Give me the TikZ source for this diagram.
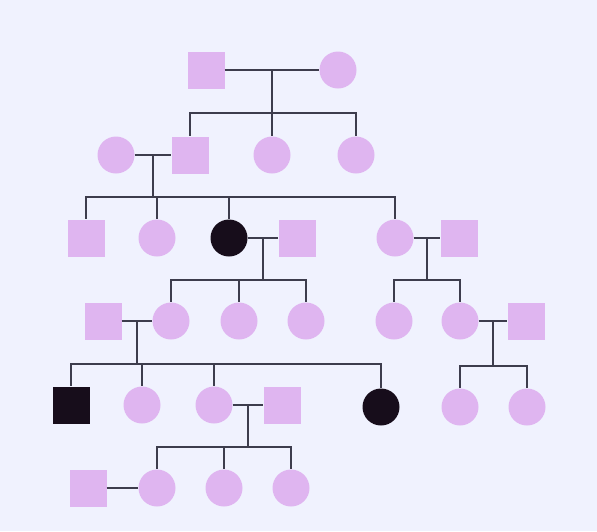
\documentclass[tikz,border=0pt]{standalone}
\usetikzlibrary{calc}
\definecolor{bgcol}{HTML}{F0F2FE}
\definecolor{lav}{HTML}{DFB5F0}
\definecolor{dark}{HTML}{170D1B}
\definecolor{linecol}{HTML}{3D3D4D}
\begin{document}
\begin{tikzpicture}[x=1pt,y=-1pt,
    male/.style={rectangle,fill=lav,minimum size=37pt,inner sep=0pt},
    female/.style={circle,fill=lav,minimum size=37pt,inner sep=0pt},
    affected/.style={fill=dark},
    link/.style={draw=linecol,line width=1.3pt}]
    \fill[bgcol] (0,0) rectangle (597,531);

    \node[male] (a1) at (206,70) {};
    \node[female] (a2) at (338,70) {};

    \node[female] (b1) at (116,155) {};
    \node[male] (b2) at (190,155) {};
    \node[female] (b3) at (272,155) {};
    \node[female] (b4) at (356,155) {};

    \node[male] (c1) at (86,238) {};
    \node[female] (c2) at (157,238) {};
    \node[female,affected] (c3) at (229,238) {};
    \node[male] (c4) at (297,238) {};
    \node[female] (c5) at (395,238) {};
    \node[male] (c6) at (459,238) {};

    \node[male] (d1) at (103,321) {};
    \node[female] (d2) at (171,321) {};
    \node[female] (d3) at (239,321) {};
    \node[female] (d4) at (306,321) {};
    \node[female] (d5) at (394,321) {};
    \node[female] (d6) at (460,321) {};
    \node[male] (d7) at (526,321) {};

    \node[male,affected] (e1) at (71,405) {};
    \node[female] (e2) at (142,405) {};
    \node[female] (e3) at (214,405) {};
    \node[male] (e4) at (282,405) {};
    \node[female,affected] (e5) at (381,407) {};
    \node[female] (e6) at (460,407) {};
    \node[female] (e7) at (527,407) {};

    \node[male] (f1) at (88,488) {};
    \node[female] (f2) at (157,488) {};
    \node[female] (f3) at (224,488) {};
    \node[female] (f4) at (291,488) {};

    \draw[link] (a1.east) -- (a2.west);
    \coordinate (m1) at ($(a1.east)!.5!(a2.west)$);
    \coordinate (s1) at ($(m1)+(0,43)$);
    \draw[link] (m1) -- (s1);
    \foreach \kid in {b2,b3,b4} \draw[link] (s1) -| (\kid.north);

    \draw[link] (b1.east) -- (b2.west);
    \coordinate (m2) at ($(b1.east)!.5!(b2.west)$);
    \coordinate (s2) at ($(m2)+(0,42)$);
    \draw[link] (m2) -- (s2);
    \foreach \kid in {c1,c2,c3,c5} \draw[link] (s2) -| (\kid.north);

    \draw[link] (c3.east) -- (c4.west);
    \coordinate (m3) at ($(c3.east)!.5!(c4.west)$);
    \coordinate (s3) at ($(m3)+(0,42)$);
    \draw[link] (m3) -- (s3);
    \foreach \kid in {d2,d3,d4} \draw[link] (s3) -| (\kid.north);

    \draw[link] (c5.east) -- (c6.west);
    \coordinate (m4) at ($(c5.east)!.5!(c6.west)$);
    \coordinate (s4) at ($(m4)+(0,42)$);
    \draw[link] (m4) -- (s4);
    \foreach \kid in {d5,d6} \draw[link] (s4) -| (\kid.north);

    \draw[link] (d1.east) -- (d2.west);
    \coordinate (m5) at ($(d1.east)!.5!(d2.west)$);
    \coordinate (s5) at ($(m5)+(0,43)$);
    \draw[link] (m5) -- (s5);
    \foreach \kid in {e1,e2,e3,e5} \draw[link] (s5) -| (\kid.north);

    \draw[link] (d6.east) -- (d7.west);
    \coordinate (m6) at ($(d6.east)!.5!(d7.west)$);
    \coordinate (s6) at ($(m6)+(0,45)$);
    \draw[link] (m6) -- (s6);
    \foreach \kid in {e6,e7} \draw[link] (s6) -| (\kid.north);

    \draw[link] (e3.east) -- (e4.west);
    \coordinate (m7) at ($(e3.east)!.5!(e4.west)$);
    \coordinate (s7) at ($(m7)+(0,42)$);
    \draw[link] (m7) -- (s7);
    \foreach \kid in {f2,f3,f4} \draw[link] (s7) -| (\kid.north);

    \draw[link] (f1.east) -- (f2.west);
\end{tikzpicture}
\end{document}
